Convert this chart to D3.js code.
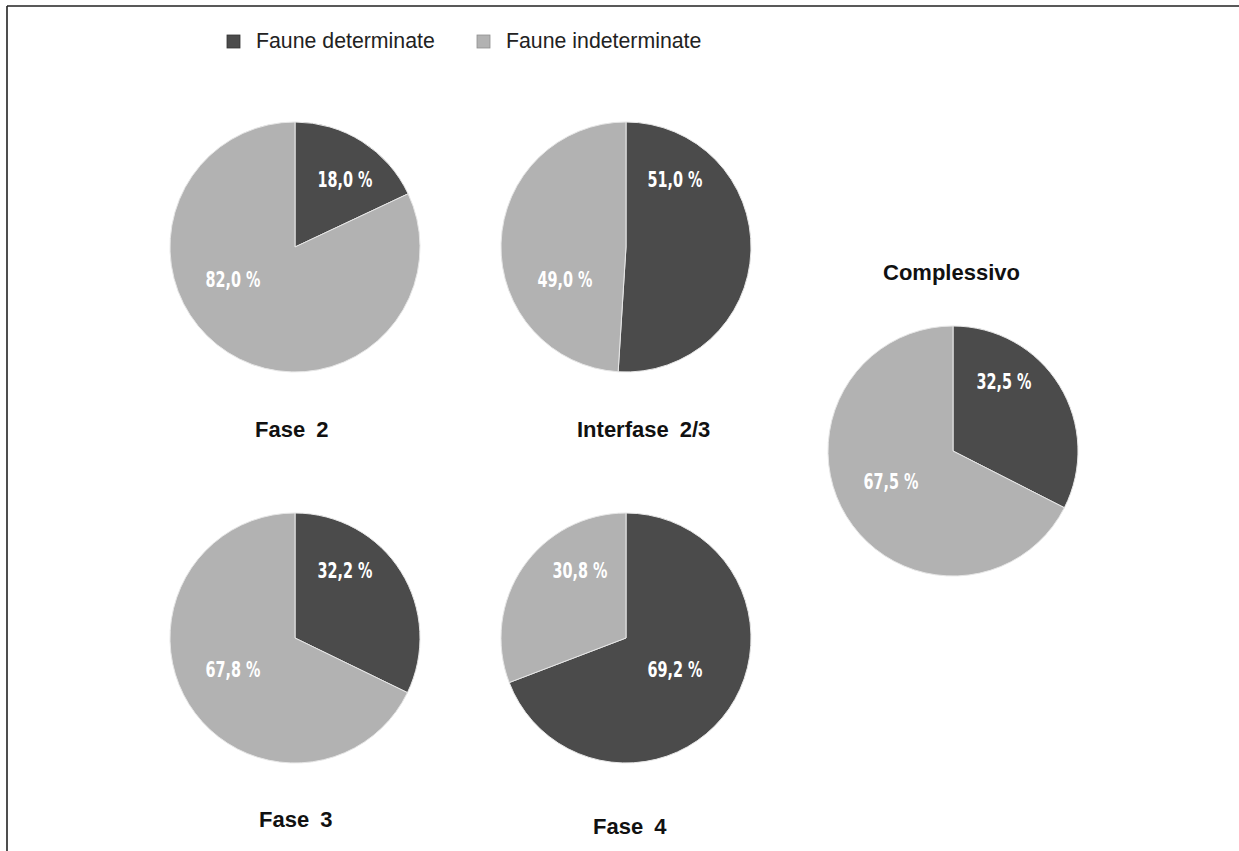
<!DOCTYPE html>
<html>
<head>
<meta charset="utf-8">
<script src="https://cdn.jsdelivr.net/npm/d3@7"></script>
<style>
  html, body { margin: 0; padding: 0; background: #fff; }
  svg { display: block; }
</style>
</head>
<body>
<svg id="chart" width="1239" height="851"></svg>
<script>
// Faune determinate / indeterminate, per fase
const phases = ["Fase 2", "Interfase 2/3", "Fase 3", "Fase 4", "Complessivo"];
const series = ["Faune determinate", "Faune indeterminate"];
const determinate = [18.0, 51.0, 32.2, 69.2, 32.5];
const indeterminate = [82.0, 49.0, 67.8, 30.8, 67.5];

// Layout: pie centres, title anchors, label offsets (relative to pie centre)
const layout = [
  { cx: 295, cy: 247, tx: 255, ty: 437, lab: [[50, -60], [-62, 40]] },
  { cx: 626, cy: 247, tx: 577, ty: 437, lab: [[49, -60], [-61, 40]] },
  { cx: 295, cy: 638, tx: 259, ty: 827, lab: [[50, -60], [-62, 39]] },
  { cx: 626, cy: 638, tx: 593, ty: 834, lab: [[-46, -60], [49, 39]], swap: true },
  { cx: 953, cy: 451, tx: 883, ty: 280, lab: [[51, -62], [-62, 38]] }
];
const radius = 125;

const color = d3.scaleOrdinal().domain(series).range(["#4b4b4b", "#b2b2b2"]);
const itLocale = d3.formatLocale({ decimal: ",", thousands: ".", grouping: [3], currency: ["", " €"] });
const fmt = v => itLocale.format(".1f")(v) + " %";

const svg = d3.select("#chart");

// frame lines (top and left)
svg.append("line").attr("x1", 7).attr("y1", 6).attr("x2", 1239).attr("y2", 6)
  .attr("stroke", "#222").attr("stroke-width", 1.4);
svg.append("line").attr("x1", 7).attr("y1", 6).attr("x2", 7).attr("y2", 851)
  .attr("stroke", "#222").attr("stroke-width", 1.6);

// legend
const legendX = [227, 477];
const legend = svg.append("g").selectAll("g").data(series).join("g")
  .attr("transform", (d, i) => `translate(${legendX[i]},35)`);
legend.append("rect").attr("width", 13).attr("height", 13)
  .attr("fill", d => color(d))
  .attr("stroke", (d, i) => i === 0 ? "#333" : "#8f8f8f").attr("stroke-width", 0.8);
legend.append("text").attr("x", 29).attr("y", 13)
  .attr("font-family", "'Liberation Sans', Arial, Helvetica, sans-serif")
  .attr("font-size", 21.3).attr("fill", "#222")
  .text(d => d);

const pie = d3.pie().sort(null).value(d => d.value);
const arc = d3.arc().innerRadius(0).outerRadius(radius);

phases.forEach((name, i) => {
  const L = layout[i];
  const rows = [
    { key: series[0], value: determinate[i] },
    { key: series[1], value: indeterminate[i] }
  ];
  const g = svg.append("g").attr("transform", `translate(${L.cx},${L.cy})`);
  const arcs = pie(rows);

  g.selectAll("path").data(arcs).join("path")
    .attr("d", arc)
    .attr("fill", d => color(d.data.key))
    .attr("stroke", "#e6e6e6").attr("stroke-width", 1);

  // condensed bold value labels
  g.selectAll("text.val").data(arcs).join("text")
    .attr("class", "val")
    .attr("x", (d, j) => L.lab[L.swap ? 1 - j : j][0])
    .attr("y", (d, j) => L.lab[L.swap ? 1 - j : j][1])
    .attr("text-anchor", "middle")
    .attr("font-family", "'DejaVu Sans Condensed', 'DejaVu Sans', sans-serif")
    .attr("font-weight", "bold")
    .attr("font-size", 22)
    .attr("textLength", 55)
    .attr("lengthAdjust", "spacingAndGlyphs")
    .attr("fill", "#fff")
    .text(d => fmt(d.data.value));

  // title: word + number set with a wider gap
  const parts = name.split(" ");
  const t = svg.append("text")
    .attr("x", L.tx).attr("y", L.ty)
    .attr("font-family", "'Liberation Sans', Arial, Helvetica, sans-serif")
    .attr("font-weight", "bold").attr("font-size", 22).attr("fill", "#111");
  t.append("tspan").text(parts[0]);
  if (parts[1]) t.append("tspan").attr("dx", 11).text(parts[1]);
});
</script>
</body>
</html>
